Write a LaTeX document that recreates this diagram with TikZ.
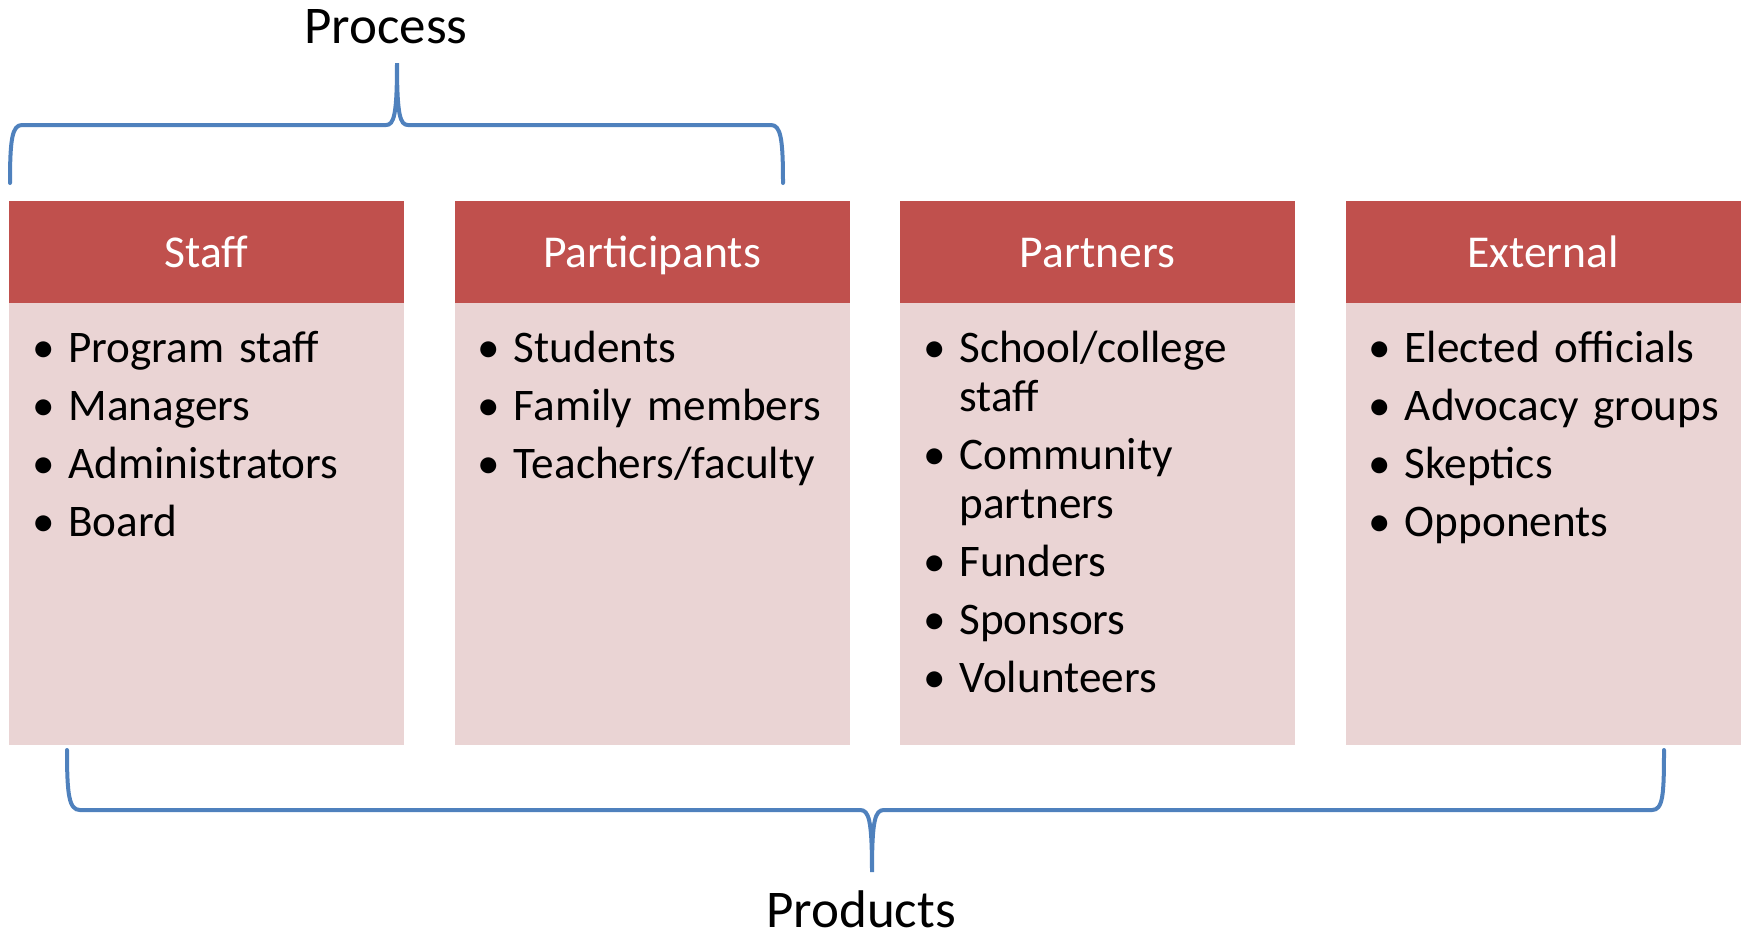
\documentclass[tikz,border=0pt]{standalone}
\usepackage{fontspec}
\setmainfont{Carlito}
\usetikzlibrary{positioning}
\definecolor{headred}{HTML}{C0504D}
\definecolor{bodypink}{HTML}{EAD4D4}
\definecolor{braceblue}{HTML}{4F81BD}
\tikzset{head/.style={fill=headred,text=white,minimum width=197.5pt,minimum height=51pt,
	inner sep=0pt,outer sep=0pt,text height=19pt,text depth=4pt,font=\fontsize{22.8}{24.5}\selectfont}}
\tikzset{body/.style={fill=bodypink,minimum width=197.5pt,minimum height=221pt,inner sep=0pt,outer sep=0pt}}
\tikzset{items/.style={anchor=north west,text width=182pt,align=left,inner sep=0pt,
	font=\fontsize{22.6}{24.5}\selectfont}}
\tikzset{brace/.style={draw=braceblue,line width=2pt,line cap=round}}
\tikzset{label/.style={anchor=base,inner sep=0pt,font=\fontsize{26.5}{30}\selectfont}}
\newcommand{\itm}[1]{\par\setlength{\parskip}{4.5pt}\hangindent=18pt\hangafter=1
	\noindent\strut\makebox[18pt][l]{\textbullet}#1\par}
\newcommand{\brk}{\hfil\break}

\begin{document}
\begin{tikzpicture}[x=0.5pt,y=-0.5pt]
	\useasboundingbox (0,0) rectangle (1742,933);

	% Kopfzeilen
	\node[head] (staff) at (206.5,252) {Staff};
	\node[head,right=25.25pt of staff] (participants) {Participants};
	\node[head,right=25.25pt of participants] (partners) {Partners};
	\node[head,right=25.25pt of partners] (external) {External};

	% Felder darunter
	\foreach \col in {staff,participants,partners,external}
		\node[body,below=0pt of \col] (\col body) {};

	% Listen
	\node[items] (staffitems) at ([xshift=11.5pt,yshift=-0.6pt]staffbody.north west)
		{\itm{Program staff}\itm{Managers}\itm{Administrators}\itm{Board}};
	\node[items] (participantsitems) at ([xshift=11.5pt,yshift=-0.6pt]participantsbody.north west)
		{\itm{Students}\itm{Family members}\itm{Teachers/faculty}};
	\node[items] (partnersitems) at ([xshift=11.5pt,yshift=-0.6pt]partnersbody.north west)
		{\itm{School/college\brk staff}\itm{Community\brk partners}\itm{Funders}\itm{Sponsors}\itm{Volunteers}};
	\node[items] (externalitems) at ([xshift=11.5pt,yshift=-0.6pt]externalbody.north west)
		{\itm{Elected officials}\itm{Advocacy groups}\itm{Skeptics}\itm{Opponents}};

	% Klammer oben
	\draw[brace] (10,183) .. controls (10,140) and (12,125) .. (22,125) -- (386,125)
		.. controls (394,125) and (397,115) .. (397,63)
		.. controls (397,115) and (400,125) .. (408,125) -- (771,125)
		.. controls (781,125) and (783,140) .. (783,183);
	\node[label] (process) at (386,43) {Process};

	% Klammer unten
	\draw[brace] (67,750) .. controls (67,795) and (69,810) .. (80,810) -- (860,810)
		.. controls (869,810) and (872,820) .. (872,872)
		.. controls (872,820) and (875,810) .. (884,810) -- (1652,810)
		.. controls (1663,810) and (1664,795) .. (1664,750);
	\node[label] (products) at (861,927) {Products};

\end{tikzpicture}
\end{document}
